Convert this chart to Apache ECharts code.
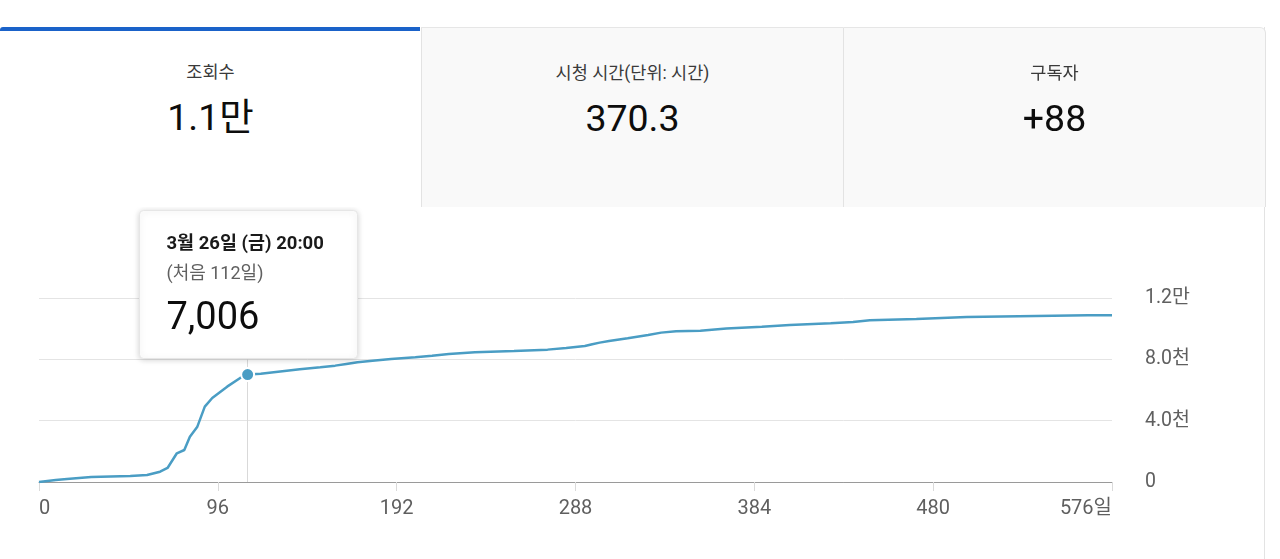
<!DOCTYPE html>
<html>
<head>
<meta charset="utf-8">
<script src="https://cdn.jsdelivr.net/npm/echarts@6/dist/echarts.min.js"></script>
<style>
  html, body { margin:0; padding:0; width:1280px; height:559px; overflow:hidden; background:#fff;
    font-family: Roboto, "Noto Sans CJK KR", "Noto Sans", sans-serif; }
  #chart { position:absolute; left:0; top:0; width:1280px; height:559px; }
  .card-border { position:absolute; left:0; top:27px; width:1265px; height:540px; border-right:1px solid #e3e3e3; box-sizing:border-box; }
  .tab { position:absolute; top:27px; height:180px; box-sizing:border-box; }
  .tab .lbl { position:absolute; left:0; right:0; top:33px; text-align:center; font-size:17.5px; line-height:24px; color:#3a3a3a; }
  .tab .val { position:absolute; left:0; right:0; top:68px; text-align:center; font-size:37.5px; line-height:44px; color:#0d0d0d; }
  #t1 { left:0; width:421px; background:#fff; }
  #t1 .bar { position:absolute; left:0; top:0; width:420px; height:4px; background:#1a62c9; border-top-left-radius:3px; }
  #t2 { left:421px; width:422px; background:#f9f9f9; border-left:1px solid #e3e3e3; border-top:1px solid #e6e6e6; }
  #t3 { left:843px; width:423px; background:#f9f9f9; border-left:1px solid #e3e3e3; border-right:1px solid #e3e3e3; border-top:1px solid #e6e6e6; border-top-right-radius:6px; }
</style>
</head>
<body>
<div id="chart"></div>
<div class="card-border"></div>
<div class="tab" id="t1"><div class="bar"></div><div class="lbl">조회수</div><div class="val">1.1만</div></div>
<div class="tab" id="t2"><div class="lbl">시청 시간(단위: 시간)</div><div class="val">370.3</div></div>
<div class="tab" id="t3"><div class="lbl">구독자</div><div class="val">+88</div></div>
<script>
// ---- data ----
const days = [0, 9, 15, 28, 49, 58, 65, 69, 74, 78, 81, 85, 89, 93, 101, 108, 112, 119, 140, 151, 159, 165, 171, 179, 189, 202, 211, 220, 234, 255, 273, 283, 293, 297, 301, 306, 316, 327, 334, 342, 355, 369, 388, 403, 425, 437, 446, 471, 498, 563, 576];
const views = [0, 130, 196, 326, 392, 457, 672, 914, 1873, 2088, 2956, 3608, 4913, 5481, 6218, 6786, 7006, 7060, 7354, 7485, 7589, 7700, 7811, 7915, 8026, 8137, 8241, 8352, 8463, 8548, 8633, 8743, 8874, 8985, 9089, 9200, 9376, 9592, 9742, 9833, 9872, 10003, 10133, 10244, 10355, 10440, 10551, 10636, 10766, 10877, 10877];
const xTicks = [0, 96, 192, 288, 384, 480, 576];
const xTickLabels = ['0', '96', '192', '288', '384', '480', '576일'];
const yTicks = [0, 4000, 8000, 12000];
const yTickLabels = ['0', '4.0천', '8.0천', '1.2만'];
const hoverDay = 112;
const hoverValue = 7006;
const tipTitle = '3월 26일 (금) 20:00';
const tipSub = '(처음 112일)';
const tipValue = '7,006';

const lineColor = '#4a9dc4';
const FONT = 'Roboto, "Noto Sans CJK KR"';
const chart = echarts.init(document.getElementById('chart'), null, { renderer: 'canvas' });
const seriesData = days.map((d, i) => [d, views[i]]);

chart.setOption({
  animation: false,
  grid: { left: 39, right: 168, top: 298, bottom: 77, containLabel: false },
  xAxis: {
    type: 'value', min: 0, max: 576, interval: 96,
    axisLine: { show: true, lineStyle: { color: '#9a9a9a', width: 1 } },
    axisTick: { show: true, length: 9, lineStyle: { color: '#dadada' } },
    splitLine: { show: false },
    axisLabel: {
      margin: 17, fontSize: 20, color: '#5f5f5f', fontFamily: FONT,
      alignMinLabel: 'left', alignMaxLabel: 'right',
      formatter: v => { const i = xTicks.indexOf(v); return i >= 0 ? xTickLabels[i] : ''; }
    }
  },
  yAxis: {
    type: 'value', min: 0, max: 12000, interval: 4000, position: 'right',
    axisLine: { show: false }, axisTick: { show: false },
    splitLine: { show: true, lineStyle: { color: '#e4e4e4', width: 1 } },
    axisLabel: {
      margin: 33, fontSize: 19.5, color: '#5f5f5f', align: 'left', fontFamily: FONT,
      formatter: v => { const i = yTicks.indexOf(v); return i >= 0 ? yTickLabels[i] : ''; }
    }
  },
  series: [{
    type: 'line', data: seriesData, showSymbol: false, smooth: false,
    lineStyle: { color: lineColor, width: 2.5 },
    z: 3,
    markLine: {
      silent: true, symbol: ['none', 'none'], label: { show: false },
      lineStyle: { color: '#d9d9d9', width: 1, type: 'solid' },
      data: [{ xAxis: hoverDay }], z: 1
    },
    markPoint: {
      silent: true, symbol: 'circle', symbolSize: 13, label: { show: false },
      itemStyle: { color: lineColor, borderColor: '#ffffff', borderWidth: 2 },
      data: [{ coord: [hoverDay, hoverValue] }]
    }
  }]
});

// tooltip card placed relative to hovered point
const pt = chart.convertToPixel({ gridIndex: 0 }, [hoverDay, hoverValue]);
const boxW = 218, boxH = 148;
const bx = Math.round(pt[0] - boxW / 2), by = Math.round(pt[1] - 17 - boxH);
chart.setOption({
  graphic: {
    zlevel: 1, z: 100,
    elements: [{
      type: 'group', left: bx, top: by, z: 100, zlevel: 1,
      children: [
        { type: 'rect', z: 100, zlevel: 1, shape: { x: 0, y: 0, width: boxW, height: boxH, r: 4 },
          style: { fill: '#ffffff', stroke: '#e6e6e6', lineWidth: 1, shadowBlur: 6, shadowColor: 'rgba(0,0,0,0.18)', shadowOffsetY: 1 } },
        { type: 'text', z: 101, zlevel: 1, x: 27, y: 34, style: { text: tipTitle, fontSize: 18.5, fontWeight: 'bold', fill: '#1a1a1a', verticalAlign: 'middle', fontFamily: FONT } },
        { type: 'text', z: 101, zlevel: 1, x: 27, y: 64, style: { text: tipSub, fontSize: 18, fill: '#606060', verticalAlign: 'middle', fontFamily: FONT } },
        { type: 'text', z: 101, zlevel: 1, x: 27, y: 109, style: { text: tipValue, fontSize: 38, fill: '#0d0d0d', verticalAlign: 'middle', fontFamily: FONT } }
      ]
    }]
  }
});
</script>
</body>
</html>
